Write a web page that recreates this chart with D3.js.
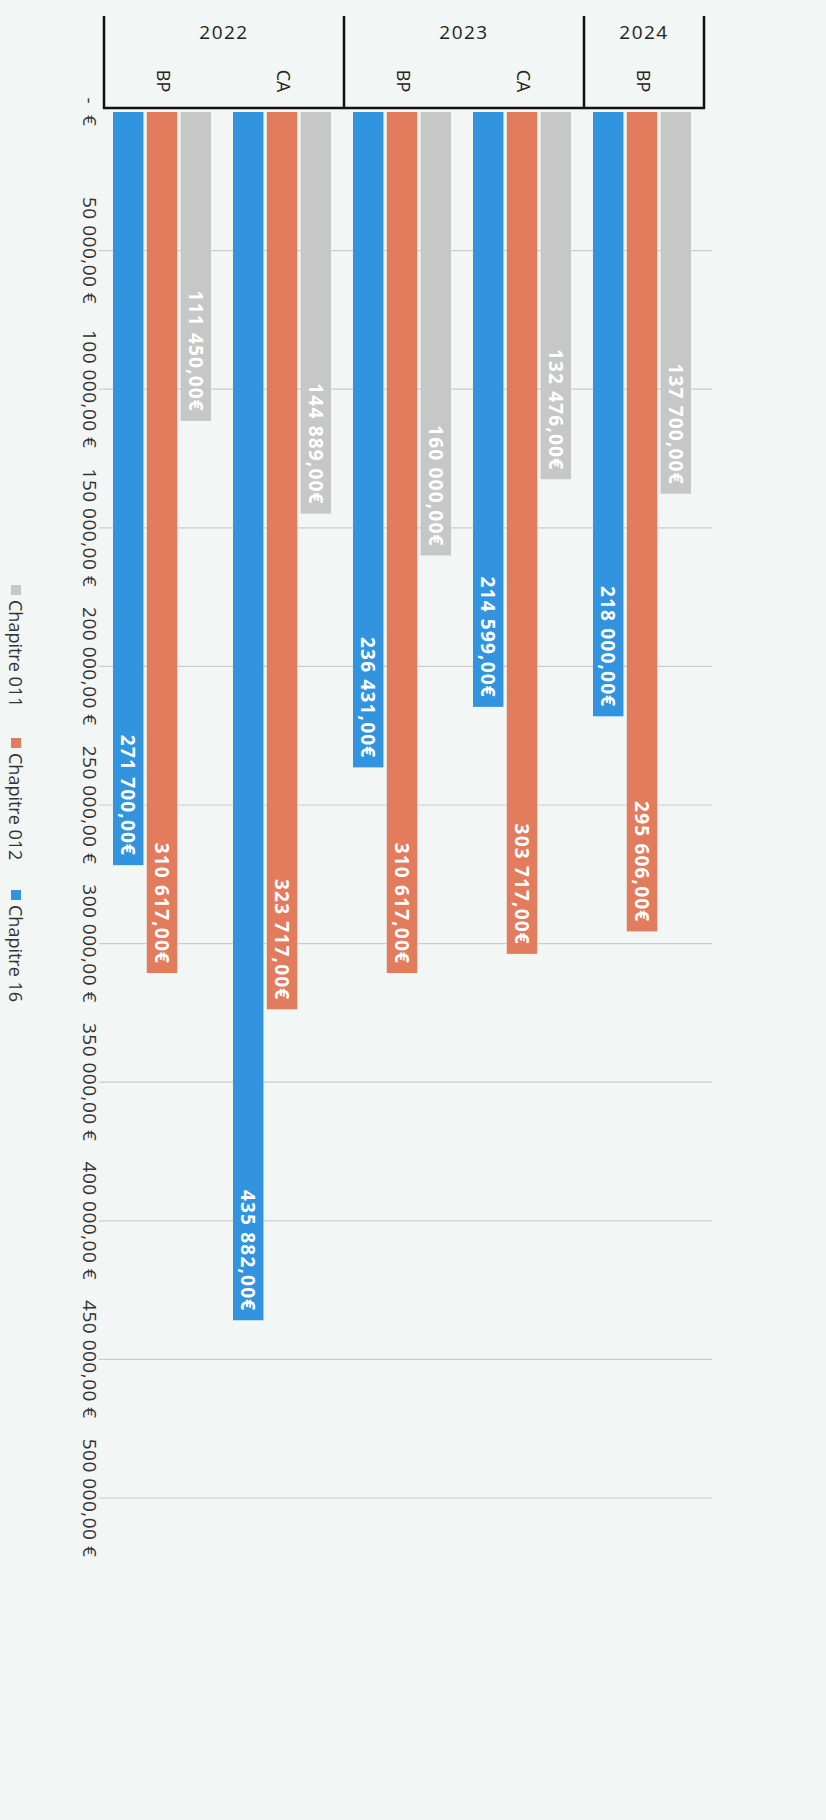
<!DOCTYPE html>
<html>
<head>
<meta charset="utf-8">
<script src="https://cdn.jsdelivr.net/npm/d3@7"></script>
<style>
body{margin:0;background:#f2f6f5;}
svg{display:block;}
text{font-family:"Open Sans",sans-serif;}
</style>
</head>
<body>
<div id="chart"></div>
<script>
var W=826, H=1820

// data
var years=["2022","2022","2023","2023","2024"]
var kinds=["BP","CA","BP","CA","BP"]
var series=["Chapitre 16","Chapitre 012","Chapitre 011"]
var ch011=[111450,144889,160000,132476,137700]
var ch012=[310617,323717,310617,303717,295606]
var ch16=[271700,435882,236431,214599,218000]
var ticks=[0,50000,100000,150000,200000,250000,300000,350000,400000,450000,500000]
var colors={"Chapitre 011":"#c6c8c8","Chapitre 012":"#e27c5c","Chapitre 16":"#3294de"}

var values={"Chapitre 011":ch011,"Chapitre 012":ch012,"Chapitre 16":ch16}
var cats=years.map(function(y,i){return y+" "+kinds[i]})

var loc=d3.formatLocale({decimal:",",thousands:"\u00a0",grouping:[3],currency:["","\u00a0€"]})
var fmt=loc.format("$,.2f")
var loc2=d3.formatLocale({decimal:",",thousands:"\u00a0",grouping:[3],currency:["","€"]})
var fmtLab=loc2.format("$,.2f")
function tickFmt(v){return v==0 ? "-\u00a0\u00a0€" : fmt(v)}

var svg=d3.select("#chart")
.append("svg")
.attr("width",W)
.attr("height",H)

// scales (chart is drawn turned a quarter clockwise)
var x=d3.scaleBand().domain(cats).range([104,704])
var xs=d3.scaleBand().domain(series).range([0,98]).paddingInner(0.1)
var y=d3.scaleLinear().domain([0,500000]).range([112,1498])

// gridlines
svg.append("g").selectAll("line")
.data(ticks.slice(1))
.enter().append("line")
.attr("x1",99).attr("x2",712)
.attr("y1",function(d){return y(d)}).attr("y2",function(d){return y(d)})
.attr("stroke","#c9cdcc").attr("stroke-width",1.2)

// tick labels
svg.append("g").selectAll("text")
.data(ticks)
.enter().append("text")
.attr("transform",function(d){return "translate(90,"+y(d)+") rotate(90)"})
.attr("text-anchor","middle")
.attr("dominant-baseline","central")
.attr("font-size",19)
.attr("letter-spacing",0.5)
.attr("fill","#333")
.text(tickFmt)

// bars
var groups=svg.append("g").selectAll("g")
.data(cats)
.enter().append("g")
.attr("transform",function(d){return "translate("+(x(d)+x.bandwidth()/2-51)+",0)"})

groups.selectAll("rect")
.data(function(d,i){return series.map(function(s){return {s:s,v:values[s][i]}})})
.enter().append("rect")
.attr("x",function(d){return xs(d.s)})
.attr("width",xs.bandwidth())
.attr("y",y(0))
.attr("height",function(d){return y(d.v)-y(0)})
.attr("fill",function(d){return colors[d.s]})

groups.selectAll("text")
.data(function(d,i){return series.map(function(s){return {s:s,v:values[s][i]}})})
.enter().append("text")
.attr("transform",function(d){return "translate("+(xs(d.s)+xs.bandwidth()/2)+","+(y(d.v)-9)+") rotate(90)"})
.attr("text-anchor","end")
.attr("dominant-baseline","central")
.attr("font-size",19)
.attr("letter-spacing",1.2)
.attr("font-weight","bold")
.attr("fill","#fff")
.text(function(d){return fmtLab(d.v)})

// category header
var head=svg.append("g")
var yearNames=["2022","2023","2024"]
var yearSpan=yearNames.map(function(yr){
  var c=cats.filter(function(d,i){return years[i]==yr})
  return {yr:yr,x0:x(c[0]),x1:x(c[c.length-1])+x.bandwidth()}
})
head.selectAll("line.sep")
.data([104].concat(yearSpan.map(function(d){return d.x1})))
.enter().append("line")
.attr("class","sep")
.attr("x1",function(d){return d}).attr("x2",function(d){return d})
.attr("y1",16).attr("y2",109)
.attr("stroke","#111").attr("stroke-width",2.5)
head.append("line")
.attr("x1",103).attr("x2",705).attr("y1",108).attr("y2",108)
.attr("stroke","#111").attr("stroke-width",2.5)

head.selectAll("text.yr")
.data(yearSpan)
.enter().append("text")
.attr("class","yr")
.attr("x",function(d){return (d.x0+d.x1)/2})
.attr("y",39)
.attr("text-anchor","middle")
.attr("font-size",19)
.attr("letter-spacing",1.5)
.attr("fill","#222")
.text(function(d){return d.yr})

head.selectAll("text.kind")
.data(cats)
.enter().append("text")
.attr("class","kind")
.attr("transform",function(d){return "translate("+(x(d)+x.bandwidth()/2)+",81) rotate(90)"})
.attr("text-anchor","middle")
.attr("dominant-baseline","central")
.attr("font-size",18)
.attr("fill","#222")
.text(function(d,i){return kinds[i]})

// legend
var legY={"Chapitre 011":585,"Chapitre 012":738,"Chapitre 16":890}
var leg=svg.append("g").selectAll("g")
.data(series.slice().reverse())
.enter().append("g")
.attr("transform",function(d){return "translate(16,"+legY[d]+")"})
leg.append("rect")
.attr("x",-5).attr("y",0).attr("width",10).attr("height",10)
.attr("fill",function(d){return colors[d]})
leg.append("text")
.attr("transform","translate(0,15) rotate(90)")
.attr("dominant-baseline","central")
.attr("font-size",18)
.attr("fill","#333")
.text(function(d){return d})
</script>
</body>
</html>
